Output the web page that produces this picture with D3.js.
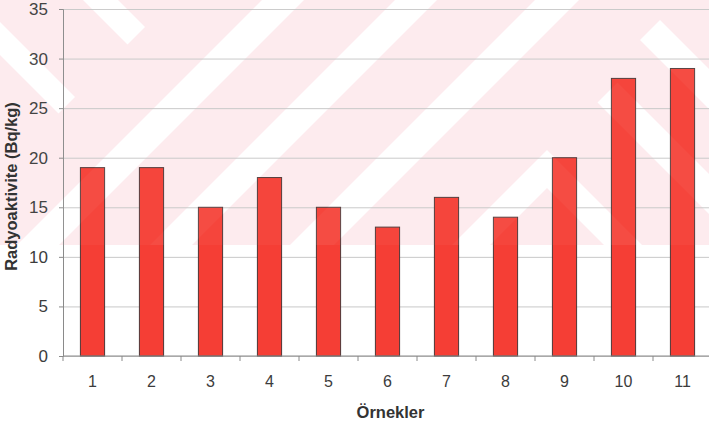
<!DOCTYPE html>
<html>
<head>
<meta charset="utf-8">
<script src="https://cdn.jsdelivr.net/npm/d3@7"></script>
<style>
  html, body { margin: 0; padding: 0; background: #ffffff; }
  svg { display: block; font-family: "Liberation Sans", Arial, sans-serif; }
</style>
</head>
<body>
<svg id="chart" width="709" height="425"></svg>
<script>
// Samples and their measured radioactivity (Bq/kg)
const categories = ["1", "2", "3", "4", "5", "6", "7", "8", "9", "10", "11"];
const values = [19, 19, 15, 18, 15, 13, 16, 14, 20, 28, 29];
const yTicks = [0, 5, 10, 15, 20, 25, 30, 35];
const yTitle = "Radyoaktivite (Bq/kg)";
const xTitle = "Örnekler";

const W = 709, H = 425;
const margin = { top: 9, right: -3, bottom: 69, left: 63 };
const plotW = W - margin.left - margin.right;
const plotH = H - margin.top - margin.bottom;

const svg = d3.select("#chart");

// ---- faint pink background emblem behind the chart ----
const washH = 245;
const bg = svg.append("g");
bg.append("rect").attr("x", 0).attr("y", 0).attr("width", W).attr("height", washH)
  .attr("fill", "#fdebee");

// white bands of the emblem, as polygons in page space
const slash = (a, b) => [[a, 0], [b, 0], [b - washH, washH], [a - washH, washH]];
const bands = [
  slash(262, 304),
  slash(395, 437),
  slash(535, 579),
  // top-left tip
  [[83, 0], [118, 0], [145, 27], [127.5, 44.5]],
  // left arm
  [[0, 22], [75, 97], [58.5, 113.5], [0, 55]],
  // upper right arm
  [[660, 20], [709, 69], [709, 109], [640, 40]],
  // lower right arm
  [[617.5, 82.5], [709, 174], [709, 214], [597.5, 102.5]],
  // chevron
  [[547, 150], [642, 245], [604, 245], [547, 188], [490, 245], [452, 245]]
];
const poly = d3.line();
const clip = svg.append("defs").append("clipPath").attr("id", "washClip");
clip.append("rect").attr("width", W).attr("height", washH);
bg.append("g").attr("clip-path", "url(#washClip)")
  .selectAll("path").data(bands).join("path")
  .attr("d", d => poly(d) + "Z")
  .attr("fill", "#ffffff");

// ---- scales ----
const x = d3.scaleBand().domain(categories).range([0, plotW])
  .paddingInner(0.59).paddingOuter(0.295);
const y = d3.scaleLinear().domain([0, 35]).range([plotH, 0]);

const g = svg.append("g").attr("transform", `translate(${margin.left},${margin.top})`);

// horizontal gridlines
g.append("g")
  .call(d3.axisLeft(y).tickValues(yTicks).tickSize(-plotW).tickFormat(""))
  .call(s => s.select(".domain").remove())
  .call(s => s.selectAll("line").attr("stroke", "#c8c8c8").attr("stroke-width", 1));

// bars
g.append("g").selectAll("rect").data(values).join("rect")
  .attr("x", (d, i) => x(categories[i]))
  .attr("y", d => y(d))
  .attr("width", x.bandwidth())
  .attr("height", d => y(0) - y(d))
  .attr("fill", "#f53e35")
  .attr("stroke", "#4e3636")
  .attr("stroke-width", 1);

// the emblem shows faintly through the bars
const over = svg.append("g").attr("clip-path", "url(#washClip)").attr("pointer-events", "none");
over.append("rect").attr("width", W).attr("height", washH).attr("fill", "#ffffff").attr("opacity", 0.04);
over.selectAll("path").data(bands).join("path")
  .attr("d", d => poly(d) + "Z").attr("fill", "#ffffff").attr("opacity", 0.04);

// y axis
g.append("g")
  .call(d3.axisLeft(y).tickValues(yTicks).tickSize(4).tickPadding(11))
  .call(s => s.select(".domain").attr("stroke", "#8a8a8a"))
  .call(s => s.selectAll(".tick line").attr("stroke", "#8a8a8a"))
  .call(s => s.selectAll("text").attr("font-size", 17).attr("fill", "#3c3c3c")
    .attr("font-family", "Liberation Sans, Arial, sans-serif"));

// x axis: labels centred on bars, tick marks between categories
const xAxis = g.append("g").attr("transform", `translate(0,${plotH})`)
  .call(d3.axisBottom(x).tickSize(0).tickPadding(20))
  .call(s => s.select(".domain").remove())
  .call(s => s.selectAll("text").attr("font-size", 16).attr("fill", "#3c3c3c")
    .attr("font-family", "Liberation Sans, Arial, sans-serif"));
xAxis.append("line").attr("x1", 0).attr("x2", plotW).attr("stroke", "#8a8a8a");
const gap = (x.step() - x.bandwidth()) / 2;
xAxis.selectAll("line.sep").data(categories.concat([null])).join("line")
  .attr("class", "sep")
  .attr("x1", (d, i) => i < categories.length ? x(d) - gap : x(categories[i - 1]) + x.bandwidth() + gap)
  .attr("x2", (d, i) => i < categories.length ? x(d) - gap : x(categories[i - 1]) + x.bandwidth() + gap)
  .attr("y1", 0).attr("y2", 5)
  .attr("stroke", "#8a8a8a");

// axis titles
svg.append("text")
  .attr("transform", `translate(17,${margin.top + plotH / 2 + 4}) rotate(-90)`)
  .attr("text-anchor", "middle")
  .attr("font-size", 16.5).attr("font-weight", "bold").attr("fill", "#333333")
  .text(yTitle);

svg.append("text")
  .attr("x", margin.left + plotW / 2 + 3).attr("y", 418)
  .attr("text-anchor", "middle")
  .attr("font-size", 16.5).attr("font-weight", "bold").attr("fill", "#333333")
  .text(xTitle);
</script>
</body>
</html>
